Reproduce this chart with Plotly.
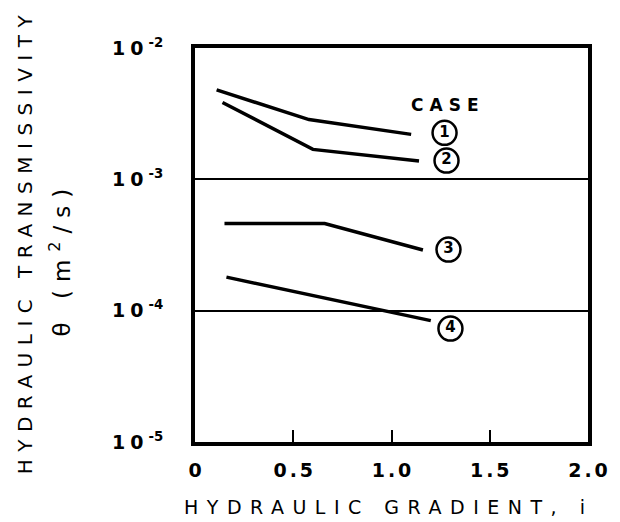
import math
import plotly.graph_objects as go

# Hydraulic transmissivity vs. hydraulic gradient for four test cases
gradient_1 = [0.11, 0.58, 1.10]
transmissivity_1 = [4.8e-3, 2.85e-3, 2.2e-3]

gradient_2 = [0.14, 0.60, 1.14]
transmissivity_2 = [3.85e-3, 1.69e-3, 1.38e-3]

gradient_3 = [0.15, 0.66, 1.16]
transmissivity_3 = [4.6e-4, 4.6e-4, 2.9e-4]

gradient_4 = [0.16, 1.20]
transmissivity_4 = [1.8e-4, 8.4e-5]

case_numbers = ["1", "2", "3", "4"]
case_label_x = [1.27, 1.28, 1.29, 1.30]
case_label_y = [2.26e-3, 1.39e-3, 2.92e-4, 7.3e-5]
case_heading_x = 1.27
case_heading_y = 3.67e-3

x_tickvals = [0, 0.5, 1.0, 1.5, 2.0]
x_ticktext = ["0", "0.5", "1.0", "1.5", "2.0"]
y_tickvals = [1e-5, 1e-4, 1e-3, 1e-2]
y_exponents = ["-5", "-4", "-3", "-2"]

FONT = "DejaVu Sans"


def spaced(text, px):
    """Widen lettering: letter-spacing on every glyph but the last."""
    if len(text) < 2:
        return text
    return f"<span style='letter-spacing:{px}px'>{text[:-1]}</span>{text[-1]}"


fig = go.Figure()

for gx, ty in [(gradient_1, transmissivity_1), (gradient_2, transmissivity_2),
               (gradient_3, transmissivity_3), (gradient_4, transmissivity_4)]:
    fig.add_trace(go.Scatter(
        x=gx, y=ty, mode="lines",
        line=dict(color="black", width=3.5),
        showlegend=False, hoverinfo="skip",
    ))

# circled case numbers
fig.add_trace(go.Scatter(
    x=case_label_x, y=case_label_y, mode="markers+text",
    text=case_numbers, textposition="middle center",
    textfont=dict(family=FONT, size=15, color="black", weight="bold"),
    marker=dict(symbol="circle-open", size=24, color="black",
                line=dict(width=2.5, color="black")),
    showlegend=False, hoverinfo="skip",
))

# log axis: annotation positions are given as log10 values
fig.add_annotation(
    x=case_heading_x, y=math.log10(case_heading_y), xref="x", yref="y",
    text=spaced("CASE", 6), showarrow=False,
    font=dict(family=FONT, size=17, color="black", weight="bold"),
    xanchor="center", yanchor="middle",
)

W, H = 620, 522
ML, MR, MT, MB = 195, 22, 48, 80
PW, PH = W - ML - MR, H - MT - MB


def px_to_paper(px, py):
    return (px - ML) / PW, (H - MB - py) / PH


# axis titles, placed in pixel terms
tx, ty = px_to_paper(389, 507)
fig.add_annotation(
    x=tx, y=ty, xref="paper", yref="paper",
    text=spaced("HYDRAULIC GRADIENT, i", 8.5),
    showarrow=False, font=dict(family=FONT, size=19, color="black"),
    xanchor="center", yanchor="middle",
)
tx, ty = px_to_paper(21, 244)
fig.add_annotation(
    x=tx, y=ty, xref="paper", yref="paper",
    text=spaced("HYDRAULIC TRANSMISSIVITY", 7.5),
    showarrow=False, font=dict(family=FONT, size=20, color="black"),
    textangle=-90, xanchor="center", yanchor="middle",
)
tx, ty = px_to_paper(57, 262)
fig.add_annotation(
    x=tx, y=ty, xref="paper", yref="paper",
    text="<span style='letter-spacing:8px'>θ (m<sup>2</sup>/s</span>)",
    showarrow=False, font=dict(family=FONT, size=23, color="black"),
    textangle=-90, xanchor="center", yanchor="middle",
)

fig.update_layout(
    width=W, height=H,
    margin=dict(l=ML, r=MR, t=MT, b=MB, pad=0),
    paper_bgcolor="white", plot_bgcolor="white",
    font=dict(family=FONT, color="black"),
    xaxis=dict(
        range=[0, 2], tickvals=x_tickvals,
        ticktext=[spaced(t, 3) for t in x_ticktext],
        tickfont=dict(family=FONT, size=19, color="black", weight="bold"),
        ticks="inside", ticklen=12, tickwidth=2, tickcolor="black",
        showline=True, linewidth=4, linecolor="black", mirror=True,
        showgrid=False, zeroline=False, ticklabelstandoff=8,
    ),
    yaxis=dict(
        type="log", range=[-5, -2], tickvals=y_tickvals,
        ticktext=[f"<span style='letter-spacing:5px'>10</span><sup>{e}</sup>"
                  for e in y_exponents],
        tickfont=dict(family=FONT, size=19, color="black", weight="bold"),
        ticks="", showline=True, linewidth=4, linecolor="black", mirror=True,
        showgrid=True, gridcolor="black", gridwidth=2, zeroline=False,
        ticklabelstandoff=24,
    ),
)

fig.write_html("out.html")
